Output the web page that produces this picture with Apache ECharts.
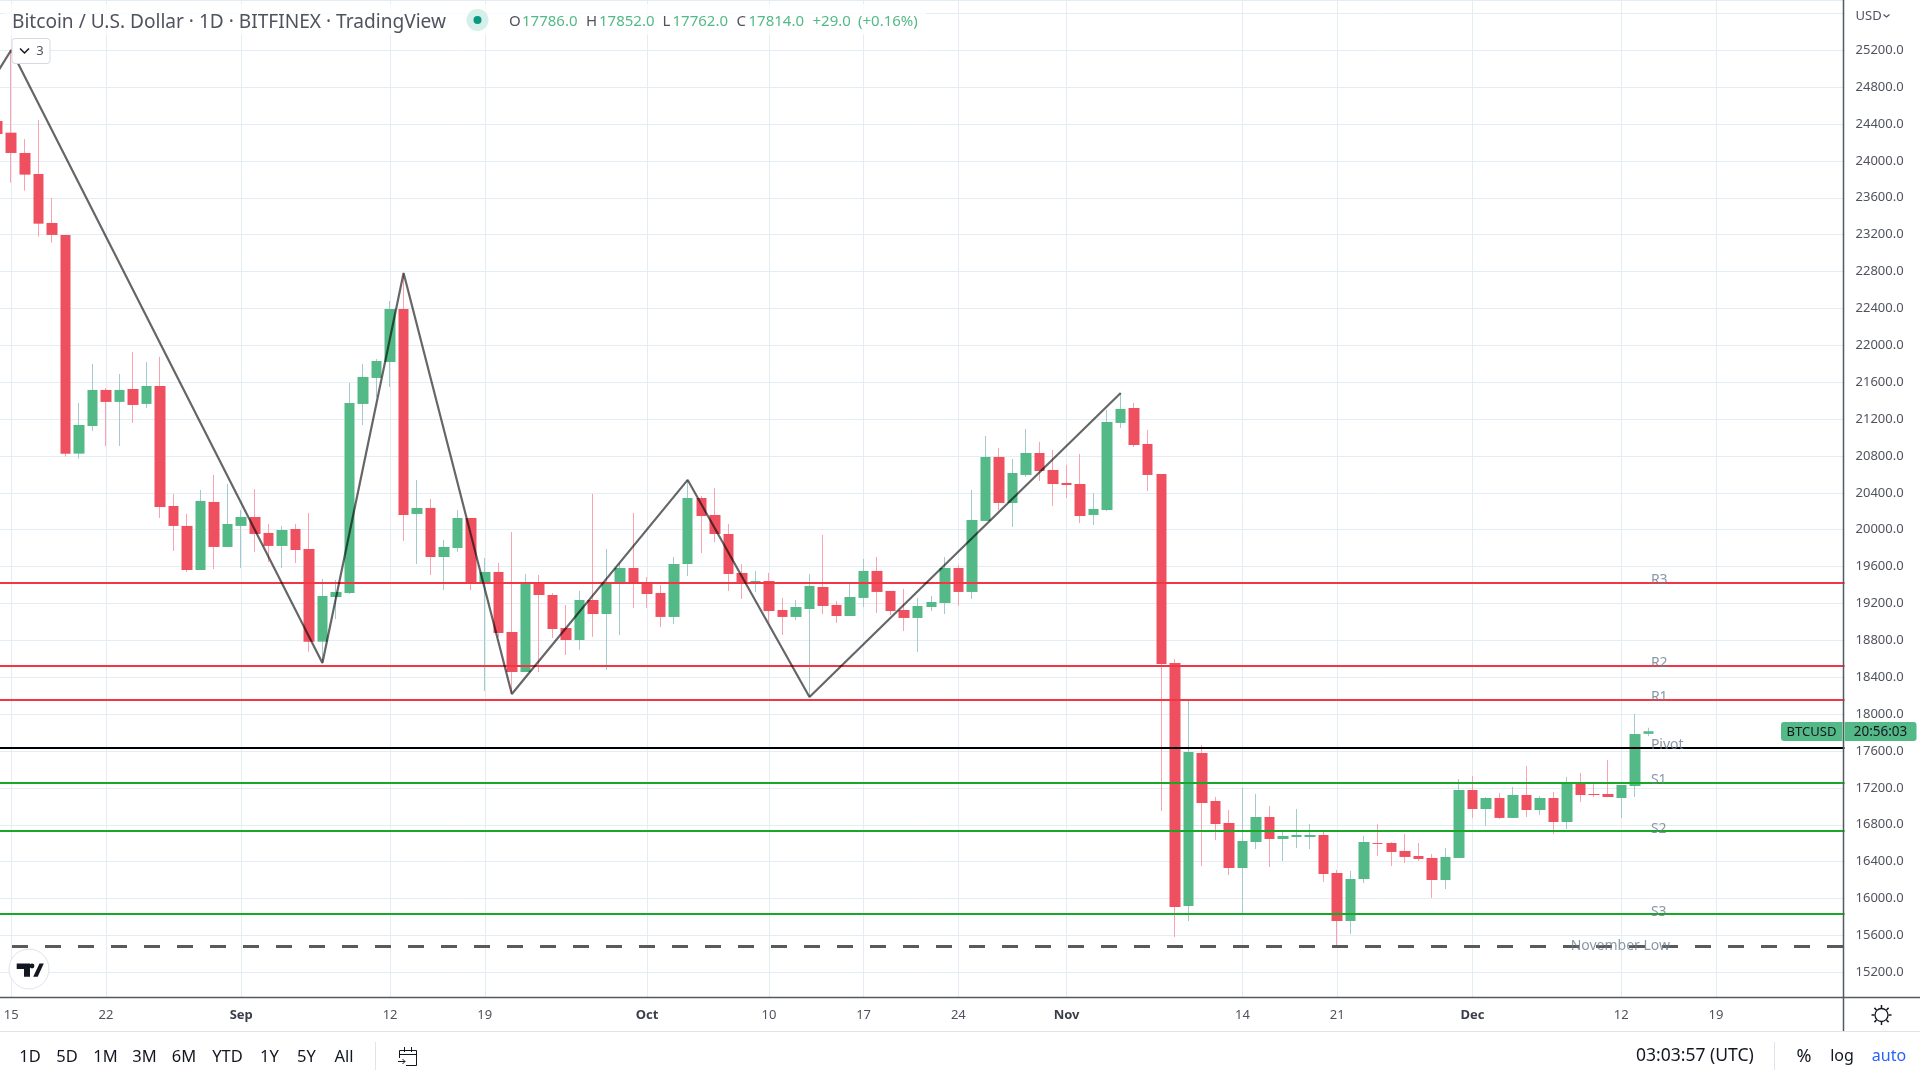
<!DOCTYPE html>
<html>
<head>
<meta charset="utf-8">
<title>BTCUSD</title>
<script src="https://cdn.jsdelivr.net/npm/echarts@6/dist/echarts.min.js"></script>
<style>html,body{margin:0;padding:0;background:#fff;overflow:hidden}#c{width:1920px;height:1080px}</style>
</head>
<body>
<div id="c"></div>
<script>
const opens = [24433,24306,24086,23858,23327,23197,20825,21125,21516,21386,21526,21364,21559,20257,20041,19563,20301,19813,20041,20138,19965,19824,20008,19791,18786,19270,19314,21364,21646,21819,22394,20171,20236,19704,19802,20127,19422,19542,18891,18457,19422,19292,18934,18804,19238,19086,19422,19585,19422,19314,19054,19628,20344,20160,19954,19531,19433,19444,19129,19054,19140,19379,19184,19064,19260,19553,19336,19129,19043,19162,19205,19585,19325,20095,20789,20290,20594,20832,20648,20507,20496,20160,20214,21158,21320,20930,20605,18555,15919,17578,17058,16819,16331,16613,16884,16646,16667,16667,16689,16277,15756,16212,16602,16602,16516,16461,16440,16201,16440,17177,16971,17090,16874,17123,16960,17090,16830,17242,17134,17134,17090,17220,17786];
const closes = [24292,24086,23851,23319,23197,20825,21136,21516,21386,21516,21353,21559,20246,20041,19563,20312,19813,20062,20138,19954,19824,19997,19780,18786,19281,19325,21375,21657,21830,22394,20160,20236,19704,19813,20127,19422,19542,18880,18457,19412,19292,18923,18804,19238,19086,19412,19585,19422,19303,19054,19628,20344,20149,19954,19520,19412,19444,19118,19054,19162,19390,19173,19064,19270,19553,19325,19118,19043,19173,19216,19585,19325,20106,20789,20290,20615,20832,20637,20496,20485,20149,20225,21168,21310,20919,20594,18544,15908,17589,17036,16808,16331,16624,16884,16646,16678,16689,16689,16266,15756,16212,16613,16592,16505,16451,16429,16201,16451,17177,16971,17090,16874,17123,16960,17090,16830,17253,17123,17123,17101,17231,17784,17814];
const lows = [24227,23764,23677,23178,23113,20792,20770,21071,20908,20908,21158,21320,20127,19769,19542,19563,19574,19813,19585,19759,19650,19585,19639,18677,18555,19032,19303,21136,21440,21548,19878,19628,19509,19346,19759,19346,18251,18837,18218,18457,18457,18826,18641,18696,18837,18479,18858,19151,19151,18945,18978,19498,19748,19867,19336,19249,19325,19000,18858,19021,18186,19086,18989,19064,19162,19097,19075,18902,18674,19118,19086,19173,19249,20095,20214,20030,20572,20529,20257,20344,20073,20051,20203,21103,20897,20420,16950,15583,15756,16353,16635,16255,15843,16537,16342,16407,16548,16537,16179,15496,15615,16169,16461,16353,16385,16407,16006,16103,16440,16874,16787,16863,16874,16884,16906,16700,16754,17047,17101,17101,16874,17101,17762];
const highs = [24498,25203,24238,24444,23598,23197,21375,21798,21537,21689,21928,21819,21874,20388,20171,20431,20594,20496,20214,20442,20062,20041,20062,20182,19466,19455,21592,21798,21852,22481,22785,20540,20333,19889,20214,20127,19693,19639,19975,19520,19509,19314,19184,19336,20388,19791,19639,20182,19487,19401,19704,20540,20366,20453,20062,19628,19553,19531,19260,19238,19520,19943,19227,19412,19683,19704,19336,19357,19260,19281,19704,19618,20431,21017,20887,20767,21093,20952,20865,20702,20821,20399,21299,21483,21375,21082,20605,18598,18142,17665,17101,16960,17199,17134,17004,16722,16971,16808,16722,16310,16299,16678,16808,16613,16700,16602,16483,16548,17296,17329,17101,17144,17210,17438,17112,17155,17318,17361,17242,17503,17231,18001,17852];

const levelNames = ['R3','R2','R1','Pivot','S1','S2','S3'];
const levelValues = [19422,18522,18153,17633,17253,16732,15832];
const levelColors = ['#f23645','#f23645','#f23645','#000000','#19a825','#19a825','#19a825'];
const novemberLowName = 'November Low';
const novemberLow = 15480;

const zigzagDates = ['08-14','08-15','09-07','09-13','09-21','10-04','10-13','11-05'];
const zigzagValues = [24965,25203,18555,22785,18218,20540,18186,21483];

const yTickInterval = 400;
const yTickTop = 25200;
const tickLabels = {'08-15':'15','08-22':'22','09-01':'Sep','09-12':'12','09-19':'19','10-01':'Oct','10-10':'10','10-17':'17','10-24':'24','11-01':'Nov','11-14':'14','11-21':'21','12-01':'Dec','12-12':'12','12-19':'19'};
const monthNames = {'09-01':1,'10-01':1,'11-01':1,'12-01':1};

const monthSpans = [['08',14,31],['09',1,30],['10',1,31],['11',1,30],['12',1,28]];
const categories = [];
monthSpans.forEach(function (m) {
  for (let d = m[1]; d <= m[2]; d++) categories.push(m[0] + '-' + String(d).padStart(2, '0'));
});

const UI = '"Noto Sans", sans-serif';
const UP = '#53b987', DOWN = '#ef5060', WICK_UP = '#a3cbcb', WICK_DOWN = '#f8a3ae';
const TXT = '#50535e', DARK = '#131722', LINE = '#555a60', GRID = '#e4edf3';

const wickData = opens.map((o, i) => [o, closes[i], lows[i], highs[i]]);
const bodyData = opens.map((o, i) => [o, closes[i], Math.min(o, closes[i]), Math.max(o, closes[i])]);
const zigzag = zigzagDates.map((d, i) => [d, zigzagValues[i]]);
const levelLabels = levelNames.map((n, i) => ({ value: ['12-15', levelValues[i]], name: n }));
levelLabels.push({ value: ['12-08', novemberLow], name: novemberLowName, label: { offset: [3.5, 0] } });

function text(x, y, t, size, color, align, extra) {
  return Object.assign({ type: 'text', z: 120, x: x, y: y, silent: true,
    style: { text: t, fill: color, font: size + 'px ' + UI, align: align || 'left', verticalAlign: 'middle' } }, extra || {});
}
function seg(x1, y1, x2, y2, color, w) {
  return { type: 'line', z: 110, silent: true, shape: { x1: x1, y1: y1, x2: x2, y2: y2 }, style: { stroke: color, lineWidth: w || 1 } };
}

const graphics = [
  { type: 'rect', z: 100, silent: true, shape: { x: 4, y: 4, width: 922, height: 31 }, style: { fill: 'rgba(255,255,255,0.72)' } },
  text(12, 22.5, 'Bitcoin / U.S. Dollar · 1D · BITFINEX · TradingView', 19.1, TXT),
  { type: 'circle', z: 120, silent: true, shape: { cx: 477.5, cy: 20, r: 11 }, style: { fill: '#d5efea' } },
  { type: 'circle', z: 121, silent: true, shape: { cx: 477.5, cy: 20, r: 4 }, style: { fill: '#089981' } },
  text(509, 22, 'O', 15, TXT), text(522, 22, '17786.0', 15, UP),
  text(586, 22, 'H', 15, TXT), text(599, 22, '17852.0', 15, UP),
  text(662.5, 22, 'L', 15, TXT), text(672.5, 22, '17762.0', 15, UP),
  text(736.5, 22, 'C', 15, TXT), text(748.5, 22, '17814.0', 15, UP),
  text(812.5, 22, '+29.0', 15, UP), text(858, 22, '(+0.16%)', 15, UP),
  { type: 'rect', z: 120, silent: true, shape: { x: 12, y: 38.5, width: 38, height: 25, r: 3 }, style: { fill: '#fff', stroke: '#d6d9e0', lineWidth: 1 } },
  { type: 'polyline', z: 121, silent: true, shape: { points: [[20, 48.5], [24.5, 53], [29, 48.5]] }, style: { stroke: DARK, lineWidth: 1.5, fill: null } },
  text(40, 51, '3', 13, TXT, 'center'),
  { type: 'circle', z: 120, silent: true, shape: { cx: 29, cy: 969, r: 20 }, style: { fill: '#fff', stroke: '#e0e3eb', lineWidth: 1 } },
  { type: 'polygon', z: 121, silent: true, shape: { points: [[16.7, 963.5], [30, 963.5], [30, 976.7], [24, 976.7], [24, 969], [16.7, 969]] }, style: { fill: DARK } },
  { type: 'circle', z: 121, silent: true, shape: { cx: 32, cy: 966, r: 2.4 }, style: { fill: DARK } },
  { type: 'polygon', z: 121, silent: true, shape: { points: [[39.5, 963.5], [43.8, 963.5], [37.7, 976.7], [33.2, 976.7]] }, style: { fill: DARK } },
  // price scale / bottom chrome
  seg(1843.5, 0, 1843.5, 1031, LINE, 1.5),
  seg(0, 997.5, 1920, 997.5, LINE, 1.5),
  seg(0, 1031.5, 1920, 1031.5, '#e0e3eb', 1),
  text(1855.5, 16.5, 'USD', 13, TXT),
  { type: 'polyline', z: 121, silent: true, shape: { points: [[1883.5, 14.5], [1886.5, 17], [1889.5, 14.5]] }, style: { stroke: TXT, lineWidth: 1.2, fill: null } },
  { type: 'rect', z: 115, silent: true, shape: { x: 1781, y: 722, width: 61.5, height: 19, r: [3, 0, 0, 3] }, style: { fill: UP } },
  { type: 'rect', z: 115, silent: true, shape: { x: 1844.5, y: 722, width: 72, height: 19, r: [0, 3, 3, 0] }, style: { fill: UP } },
  text(1811.5, 732.5, 'BTCUSD', 13, DARK, 'center'),
  text(1880.5, 732.5, '20:56:03', 13.5, DARK, 'center'),
  // range toolbar
  text(30, 1057, '1D', 16.5, DARK, 'center'), text(67, 1057, '5D', 16.5, DARK, 'center'),
  text(105.5, 1057, '1M', 16.5, DARK, 'center'), text(144.5, 1057, '3M', 16.5, DARK, 'center'),
  text(184, 1057, '6M', 16.5, DARK, 'center'), text(227.5, 1057, 'YTD', 16.5, DARK, 'center'),
  text(269.5, 1057, '1Y', 16.5, DARK, 'center'), text(306.5, 1057, '5Y', 16.5, DARK, 'center'),
  text(344, 1057, 'All', 16.5, DARK, 'center'),
  seg(375.5, 1042, 375.5, 1070, '#e0e3eb', 1),
  seg(1774.5, 1042, 1774.5, 1070, '#e0e3eb', 1),
  text(1636, 1056.5, '03:03:57 (UTC)', 17.5, DARK),
  text(1804, 1056.5, '%', 18, DARK, 'center'),
  text(1842, 1056.5, 'log', 16, DARK, 'center'),
  text(1889, 1056.5, 'auto', 16, '#2962ff', 'center'),
  // calendar icon
  seg(399.5, 1050.5, 416.5, 1050.5, DARK), seg(416.5, 1050.5, 416.5, 1065.5, DARK),
  seg(416.5, 1065.5, 406, 1065.5, DARK), seg(399.5, 1050.5, 399.5, 1058, DARK),
  seg(399.5, 1054.5, 416.5, 1054.5, DARK), seg(404.5, 1047, 404.5, 1052, DARK), seg(411.5, 1047, 411.5, 1052, DARK),
  seg(398, 1061.5, 405, 1061.5, DARK), seg(402.5, 1059, 405, 1061.5, DARK), seg(402.5, 1064, 405, 1061.5, DARK),
  // settings gear
  { type: 'circle', z: 121, silent: true, shape: { cx: 1881.5, cy: 1015, r: 6.5 }, style: { fill: '#fff', stroke: DARK, lineWidth: 1.3 } },
  seg(1881.5, 1005, 1881.5, 1008, DARK, 1.5), seg(1881.5, 1022, 1881.5, 1025, DARK, 1.5),
  seg(1871.5, 1015, 1874.5, 1015, DARK, 1.5), seg(1888.5, 1015, 1891.5, 1015, DARK, 1.5),
  seg(1874.4, 1007.9, 1876.5, 1010, DARK, 1.5), seg(1886.5, 1020, 1888.6, 1022.1, DARK, 1.5),
  seg(1874.4, 1022.1, 1876.5, 1020, DARK, 1.5), seg(1886.5, 1010, 1888.6, 1007.9, DARK, 1.5)
];

const option = {
  animation: false,
  backgroundColor: '#fff',
  grid: { left: -9.07, width: 1853.6, top: 0, height: 997, containLabel: false, outerBoundsMode: 'none' },
  xAxis: {
    type: 'category',
    data: categories,
    boundaryGap: true,
    axisLine: { show: false },
    axisTick: { show: false },
    axisLabel: {
      color: TXT, fontFamily: UI, fontSize: 13, margin: 12,
      interval: (i, v) => tickLabels[v] !== undefined,
      formatter: (v) => monthNames[v] ? '{m|' + tickLabels[v] + '}' : (tickLabels[v] || ''),
      rich: { m: { fontFamily: UI, fontSize: 13, fontWeight: 'bold', color: '#3a3e48' } }
    },
    splitLine: {
      show: true, alignWithLabel: true,
      interval: (i, v) => tickLabels[v] !== undefined,
      lineStyle: { color: GRID, width: 1 }
    }
  },
  yAxis: {
    type: 'value',
    position: 'right',
    min: 14932,
    max: 25745,
    scale: true,
    minInterval: yTickInterval,
    maxInterval: yTickInterval,
    axisLine: { show: false },
    axisTick: { show: false },
    axisLabel: {
      color: TXT, fontFamily: UI, fontSize: 13, margin: 11, padding: [2, 0, 0, 0],
      showMinLabel: false, showMaxLabel: false,
      formatter: (v) => (v % yTickInterval === 0 && v <= yTickTop) ? v.toFixed(1) : ''
    },
    splitLine: { show: true, lineStyle: { color: GRID, width: 1 } }
  },
  series: [
    {
      name: 'wicks', type: 'candlestick', z: 2, barWidth: 1, silent: true,
      data: wickData,
      itemStyle: { color: WICK_UP, color0: WICK_DOWN, borderColor: WICK_UP, borderColor0: WICK_DOWN, borderWidth: 1 }
    },
    {
      name: 'bodies', type: 'candlestick', z: 3, barWidth: 11, silent: true,
      data: bodyData,
      itemStyle: { color: UP, color0: DOWN, borderColor: UP, borderColor0: DOWN, borderWidth: 0 },
      markLine: {
        silent: true, symbol: 'none', animation: false, label: { show: false }, z: 5,
        data: levelValues.map((v, i) => ({ yAxis: v, lineStyle: { color: levelColors[i], width: 2, type: 'solid' } }))
          .concat([{ yAxis: novemberLow, lineStyle: { color: '#5a5a5a', width: 3, type: [16, 17], dashOffset: 11.93 } }])
      }
    },
    {
      name: 'zigzag', type: 'line', z: 6, data: zigzag, symbol: 'none', silent: true,
      lineStyle: { color: 'rgba(0,0,0,0.6)', width: 2.2 }
    },
    {
      name: 'level names', type: 'scatter', z: 7, data: levelLabels, symbolSize: 0, silent: true,
      label: {
        show: true, position: 'right', distance: 0, offset: [-11, -2.5],
        color: '#6b7d8e', fontFamily: UI, fontSize: 14,
        formatter: (p) => p.name
      }
    }
  ],
  graphic: graphics
};

const chart = echarts.init(document.getElementById('c'), null, { renderer: 'canvas' });
chart.setOption(option);
</script>
</body>
</html>
